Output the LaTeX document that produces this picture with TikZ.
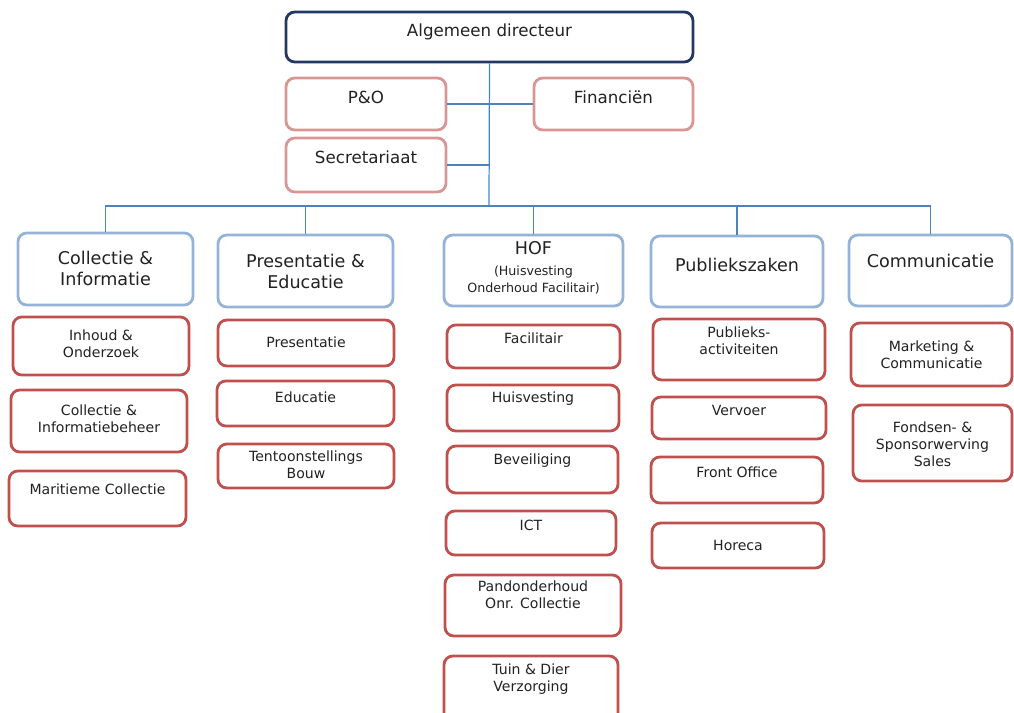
\documentclass[tikz,border=0pt]{standalone}
\usepackage{fontspec}
\setmainfont{DejaVu Sans}
\usepackage{tikz}
\definecolor{navy}{RGB}{33,56,98}
\definecolor{staffpink}{RGB}{217,150,148}
\definecolor{deptblue}{RGB}{149,179,215}
\definecolor{unitred}{RGB}{192,80,77}
\definecolor{linkblue}{RGB}{79,129,189}
\definecolor{txt}{RGB}{34,34,34}
\newcommand{\px}{0.02cm}
\newcommand{\subfont}{\fontsize{7.2}{9.6}\selectfont}
% box from (x1,y1) to (x2,y2) in pixels, text centred at height ty
\newcommand{\orgbox}[8]{\node[#2box, minimum width={(#5-#3)*\px}, minimum height={(#6-#4)*\px}] (#1) at ({(#3+#5)/2},{(#4+#6)/2}) {};
  \node[#2lbl] (#1-t) at ({(#3+#5)/2},#7) {#8};}
\tikzset{
  anybox/.style={draw, line width=1.6pt, rounded corners=5pt, inner sep=0pt, fill=white},
  dirbox/.style={anybox, draw=navy},
  staffbox/.style={anybox, draw=staffpink},
  deptbox/.style={anybox, draw=deptblue},
  unitbox/.style={anybox, draw=unitred},
  anylbl/.style={text=txt, align=center, inner sep=0pt},
  dirlbl/.style={anylbl, font=\fontsize{9.5}{11.4}\selectfont},
  stafflbl/.style={anylbl, font=\fontsize{9.5}{11.4}\selectfont},
  deptlbl/.style={anylbl, font=\fontsize{10}{12}\selectfont},
  unitlbl/.style={anylbl, font=\fontsize{8}{9.6}\selectfont},
  link/.style={draw=linkblue, line width=0.7pt}
}
\begin{document}
\begin{tikzpicture}[x=\px, y=-\px]
    \useasboundingbox (0,0) rectangle (1014,713);
    % top
    \orgbox{dir}{dir}{286}{12}{693}{62}{32}{Algemeen directeur}
    \orgbox{po}{staff}{286}{78}{446}{130}{97}{P\&O}
    \orgbox{fin}{staff}{534}{78}{693}{130}{97}{Financiën}
    \orgbox{secr}{staff}{286}{138}{446}{192}{157}{Secretariaat}
    % departments
    \orgbox{ci}{dept}{18}{233}{193}{305}{268}{Collectie \&\\Informatie}
    \orgbox{pe}{dept}{218}{235}{393}{307}{271}{Presentatie \&\\Educatie}
    \orgbox{hof}{dept}{444}{235}{623}{306}{268}{HOF\\[0pt]\subfont (Huisvesting\\[-2.3pt]\subfont Onderhoud Facilitair)}
    \orgbox{pub}{dept}{651}{236}{823}{307}{265}{Publiekszaken}
    \orgbox{comm}{dept}{849}{235}{1012}{306}{261}{Communicatie}
    % units
    \orgbox{inh}{unit}{13}{317}{189}{375}{344}{Inhoud \&\\Onderzoek}
    \orgbox{cib}{unit}{11}{390}{187}{452}{419}{Collectie \&\\Informatiebeheer}
    \orgbox{mar}{unit}{9}{471}{186}{526}{489}{Maritieme Collectie}
    \orgbox{pres}{unit}{218}{320}{394}{366}{342}{Presentatie}
    \orgbox{edu}{unit}{217}{381}{394}{426}{397}{Educatie}
    \orgbox{tent}{unit}{218}{444}{394}{488}{465}{Tentoonstellings\\Bouw}
    \orgbox{fac}{unit}{447}{325}{620}{368}{338}{Facilitair}
    \orgbox{huis}{unit}{447}{385}{619}{431}{399}{Huisvesting}
    \orgbox{bev}{unit}{447}{446}{618}{493}{461}{Beveiliging}
    \orgbox{ict}{unit}{446}{511}{616}{555}{525}{ICT}
    \orgbox{pand}{unit}{445}{575}{621}{636}{595}{Pandonderhoud\\Onr. Collectie}
    \orgbox{tuin}{unit}{444}{656}{618}{722}{679}{Tuin \& Dier\\Verzorging}
    \orgbox{publ}{unit}{653}{319}{825}{380}{341}{Publieks-\\activiteiten}
    \orgbox{verv}{unit}{652}{397}{826}{439}{410}{Vervoer}
    \orgbox{front}{unit}{651}{457}{823}{503}{472}{Front Office}
    \orgbox{hor}{unit}{652}{523}{824}{568}{545}{Horeca}
    \orgbox{mark}{unit}{851}{323}{1012}{386}{355}{Marketing \&\\Communicatie}
    \orgbox{fonds}{unit}{853}{405}{1012}{481}{444}{Fondsen- \&\\Sponsorwerving\\Sales}
    % connectors
    \coordinate (bus) at (489,206);
    \draw[link] (dir.south) -- (bus);
    \draw[link] (po.east) -- (fin.west);
    \draw[link] (secr.east) -- (secr.east -| dir.south);
    \draw[link] (ci.north) |- (bus) -| (comm.north);
    \foreach \n in {pe,hof,pub}
        \draw[link] (\n.north) -- (\n.north |- bus);
\end{tikzpicture}
\end{document}
